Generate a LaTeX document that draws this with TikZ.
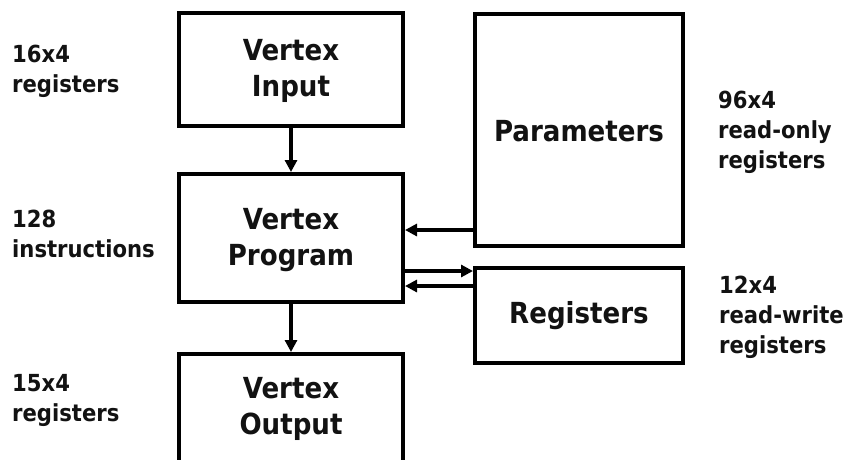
\documentclass[tikz,border=0pt]{standalone}
\usepackage{fontspec}
\setmainfont{DejaVu Sans Condensed}
\usetikzlibrary{arrows.meta}
\begin{document}
\begin{tikzpicture}[x=1pt,y=-1pt,
  block/.style={draw=black, line width=4pt, fill=none, inner sep=0pt},
  blocktext/.style={align=center, inner sep=0pt, text=black!93,
    font=\bfseries\fontsize{29}{36}\selectfont},
  sidenote/.style={align=left, inner sep=0pt, anchor=base west, text=black!93,
    font=\bfseries\fontsize{23.5}{30}\selectfont},
  flow/.style={line width=3.5pt, -{Triangle[length=12pt,width=12pt]}}]
  % page frame
  \clip (0,0) rectangle (854,459);
  \fill[white] (0,0) rectangle (854,459);

  % vertex pipeline blocks
  \node[block, minimum width=224pt, minimum height=113pt] (vin) at (291,69.5) {};
  \node[blocktext] (vintxt) at (291,71) {Vertex\\Input};
  \node[block, minimum width=224pt, minimum height=128pt] (prog) at (291,238) {};
  \node[blocktext] (progtxt) at (291,240) {Vertex\\Program};
  \node[block, minimum width=224pt, minimum height=140pt, anchor=north] (vout) at (291,352) {};
  \node[blocktext] (vouttxt) at (291,409) {Vertex\\Output};

  % constant and temporary storage
  \node[block, minimum width=208pt, minimum height=232pt] (par) at (579,130) {};
  \node[blocktext] (partxt) at (579,131) {Parameters};
  \node[block, minimum width=208pt, minimum height=95pt] (reg) at (579,315.5) {};
  \node[blocktext] (regtxt) at (579,315.5) {Registers};

  % data flow
  \draw[flow] (vin.south) -- (prog.north);
  \draw[flow] (prog.south) -- (vout.north);
  \draw[flow] (par.west |- 0,230) -- (prog.east |- 0,230);
  \draw[flow] (prog.east |- 0,271) -- (reg.west |- 0,271);
  \draw[flow] (reg.west |- 0,286) -- (prog.east |- 0,286);

  % capacity notes (anchored on the baseline of their last line)
  \node[sidenote] (n1) at (12,92) {16x4\\registers};
  \node[sidenote] (n2) at (12,257) {128\\instructions};
  \node[sidenote] (n3) at (12,421) {15x4\\registers};
  \node[sidenote] (n4) at (718,168) {96x4\\read-only\\registers};
  \node[sidenote] (n5) at (719,353) {12x4\\read-write\\registers};
\end{tikzpicture}
\end{document}
